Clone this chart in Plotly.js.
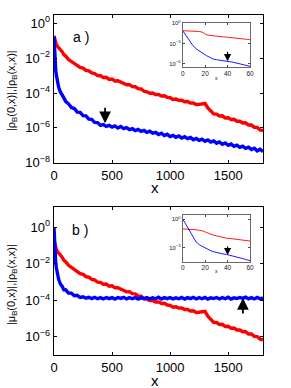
<!DOCTYPE html>
<html><head><meta charset="utf-8">
<script src="https://cdn.plot.ly/plotly-3.0.1.min.js"></script>
<style>html,body{margin:0;padding:0;background:#fff}#c{width:291px;height:388px}</style>
</head><body><div id="c"></div>
<script>
// main x grid
const xMain = [0,3,6,10,15,20,30,40,55,70,85,100,125,150,175,200,225,250,275,300,325,350,375,400,425,450,475,500,525,550,575,600,625,650,675,700,725,750,775,800,825,850,875,900,925,950,975,1000,1025,1050,1075,1100,1125,1150,1175,1200,1225,1250,1275,1300,1325,1350,1375,1400,1425,1450,1475,1500,1525,1550,1575,1600,1625,1650,1675,1700,1725,1750,1775,1800];
// log10 values
const redLog = [-0.72,-0.82,-0.97,-1.05,-1.17,-1.21,-1.32,-1.39,-1.54,-1.63,-1.80,-1.88,-2.08,-2.18,-2.33,-2.38,-2.53,-2.57,-2.70,-2.73,-2.85,-2.88,-3.00,-3.01,-3.11,-3.10,-3.22,-3.20,-3.31,-3.30,-3.36,-3.44,-3.53,-3.52,-3.63,-3.64,-3.75,-3.77,-3.90,-3.93,-4.01,-4.00,-4.09,-4.08,-4.17,-4.16,-4.25,-4.27,-4.37,-4.35,-4.42,-4.41,-4.50,-4.49,-4.58,-4.57,-4.66,-4.65,-4.64,-4.60,-4.86,-5.06,-5.20,-5.21,-5.32,-5.31,-5.43,-5.42,-5.52,-5.51,-5.62,-5.62,-5.72,-5.71,-5.84,-5.84,-5.97,-5.98,-6.12,-6.16];
const blueALog = [-0.75,-1.40,-1.90,-2.30,-2.70,-2.96,-3.34,-3.66,-3.94,-4.17,-4.28,-4.48,-4.62,-4.84,-4.89,-5.10,-5.11,-5.30,-5.31,-5.50,-5.51,-5.69,-5.70,-5.86,-5.81,-5.92,-5.86,-5.96,-5.89,-6.01,-5.92,-6.04,-5.99,-6.10,-6.05,-6.16,-6.09,-6.20,-6.15,-6.26,-6.19,-6.30,-6.26,-6.38,-6.31,-6.44,-6.37,-6.50,-6.43,-6.54,-6.47,-6.58,-6.51,-6.62,-6.55,-6.68,-6.61,-6.72,-6.65,-6.77,-6.69,-6.82,-6.75,-6.88,-6.81,-6.94,-6.87,-7.00,-6.93,-7.06,-6.99,-7.12,-7.05,-7.18,-7.11,-7.24,-7.17,-7.32,-7.23,-7.36];
const blueBLog = [0.00,-0.70,-1.20,-1.60,-1.95,-2.20,-2.62,-2.84,-3.10,-3.22,-3.42,-3.42,-3.60,-3.60,-3.74,-3.72,-3.84,-3.80,-3.88,-3.83,-3.90,-3.83,-3.91,-3.85,-3.92,-3.84,-3.90,-3.85,-3.93,-3.84,-3.89,-3.83,-3.92,-3.85,-3.91,-3.84,-3.93,-3.85,-3.90,-3.84,-3.92,-3.86,-3.91,-3.83,-3.93,-3.85,-3.90,-3.84,-3.92,-3.86,-3.91,-3.84,-3.93,-3.85,-3.90,-3.83,-3.92,-3.85,-3.91,-3.84,-3.93,-3.86,-3.90,-3.84,-3.92,-3.85,-3.91,-3.83,-3.93,-3.86,-3.90,-3.84,-3.89,-3.82,-3.91,-3.85,-3.92,-3.84,-3.91,-3.86];
// insets
const xIn = [0,3,6,9,12,15,18,21,24,27,30,33,36,39,42,45,48,51,54,57,60];
const redInALog = [-1.10,-1.12,-1.12,-1.15,-1.18,-1.22,-1.35,-1.70,-1.80,-1.88,-1.93,-1.98,-2.02,-2.06,-2.10,-2.13,-2.20,-2.25,-2.30,-2.38,-2.45];
const blueInALog = [-1.10,-1.90,-2.70,-3.30,-3.80,-4.15,-4.50,-4.80,-5.05,-5.30,-5.42,-5.52,-5.60,-5.65,-5.72,-5.80,-5.90,-6.00,-6.12,-6.25,-6.40];
const redInBLog = [-1.04,-1.05,-1.06,-1.08,-1.12,-1.18,-1.25,-1.40,-1.55,-1.67,-1.75,-1.85,-1.93,-2.00,-2.03,-2.07,-2.10,-2.15,-2.20,-2.25,-2.30];
const blueInBLog = [0.00,-0.60,-1.25,-1.85,-2.40,-2.70,-2.90,-3.08,-3.25,-3.40,-3.50,-3.58,-3.65,-3.70,-3.78,-3.85,-3.95,-4.05,-4.15,-4.25,-4.35];
// tick labels
const xMainTicks = [0,500,1000,1500];
const yATicks = [0,-2,-4,-6,-8];
const yBTicks = [0,-2,-4,-6];
const xInTicks = [0,20,40,60];
const yInATicks = [0,-3,-6];
const yInBTicks = [0,-3];
// arrows [x, log10 y]
const arrowA = [440,-5.73], arrowB = [1627,-3.87], arrowInA = [40,-5.65], arrowInB = [40,-3.77];

const pw = v => v.map(e => Math.pow(10,e));
const sup = e => '10<sup>' + (e<0 ? '\u2212'+(-e) : e) + '</sup>';
const RED='#ff0000', BLUE='#0000ff';

const traces = [
 {x:xMain,y:pw(redLog),xaxis:'x',yaxis:'y',mode:'lines',line:{color:RED,width:3.4}},
 {x:xMain,y:pw(blueALog),xaxis:'x',yaxis:'y',mode:'lines',line:{color:BLUE,width:3.4}},
 {x:xMain,y:pw(redLog),xaxis:'x2',yaxis:'y2',mode:'lines',line:{color:RED,width:3.4}},
 {x:xMain,y:pw(blueBLog),xaxis:'x2',yaxis:'y2',mode:'lines',line:{color:BLUE,width:3.4}},
 {x:xIn,y:pw(redInALog),xaxis:'x3',yaxis:'y3',mode:'lines',line:{color:RED,width:0.9}},
 {x:xIn,y:pw(blueInALog),xaxis:'x3',yaxis:'y3',mode:'lines',line:{color:BLUE,width:0.9}},
 {x:xIn,y:pw(redInBLog),xaxis:'x4',yaxis:'y4',mode:'lines',line:{color:RED,width:0.9}},
 {x:xIn,y:pw(blueInBLog),xaxis:'x4',yaxis:'y4',mode:'lines',line:{color:BLUE,width:0.9}}
];

const F = 'Liberation Sans, Arial, sans-serif';
const mainX = (dom, anchor) => ({domain:dom, anchor:anchor, range:[0,1800], tickvals:xMainTicks, ticktext:xMainTicks.map(String),
  showline:true, linecolor:'#000', linewidth:1.4, mirror:'ticks', ticks:'inside', ticklen:3, tickcolor:'#000',
  showgrid:false, zeroline:false, tickfont:{family:F,size:13,color:'#000'}});
const mainY = (dom, anchor, rng, tv) => ({domain:dom, anchor:anchor, type:'log', range:rng, tickvals:pw(tv), ticktext:tv.map(sup),
  showline:true, linecolor:'#000', linewidth:1.4, mirror:'ticks', ticks:'inside', ticklen:3, tickcolor:'#000',
  showgrid:false, zeroline:false, tickfont:{family:F,size:13,color:'#000'}});
const inX = (dom, anchor) => ({domain:dom, anchor:anchor, range:[0,60], tickvals:xInTicks, ticktext:xInTicks.map(String),
  showline:true, linecolor:'#444', linewidth:0.8, mirror:'ticks', ticks:'inside', ticklen:2, tickcolor:'#444',
  showgrid:false, zeroline:false, tickfont:{family:F,size:6.5,color:'#222'}});
const inY = (dom, anchor, rng, tv) => ({domain:dom, anchor:anchor, type:'log', range:rng, tickvals:pw(tv), ticktext:tv.map(sup),
  showline:true, linecolor:'#444', linewidth:0.8, mirror:'ticks', ticks:'inside', ticklen:2, tickcolor:'#444',
  showgrid:false, zeroline:false, tickfont:{family:F,size:6,color:'#222'}});

const W=291,H=388;
const px = v=>v/W, py = v=>1-v/H;

const arrow = (a, xr, yr, ay, w, s) => ({x:a[0], y:a[1], xref:xr, yref:yr, text:'', showarrow:true, ax:0, ay:ay,
  arrowhead:2, arrowwidth:w, arrowsize:s, arrowcolor:'#000'});
const txt = (t, x, y, size, angle) => ({text:t, x:px(x), y:py(y), xref:'paper', yref:'paper', showarrow:false,
  xanchor:'center', yanchor:'middle', textangle:angle||0, font:{family:F,size:size,color:'#000'}});

const layout = {
  width:W, height:H, margin:{l:0,r:0,t:0,b:0}, paper_bgcolor:'#fff', plot_bgcolor:'#fff', showlegend:false,
  xaxis: mainX([px(54),px(263)],'y'),
  yaxis: mainY([py(162.7),py(15.3)],'x',[-8,0.46],yATicks),
  xaxis2: mainX([px(54),px(263)],'y2'),
  yaxis2: mainY([py(355),py(207.3)],'x2',[-6.99,1.1],yBTicks),
  xaxis3: inX([px(182.7),px(250)],'y3'),
  yaxis3: inY([py(67.3),py(22.7)],'x3',[-6.55,0.09],yInATicks),
  xaxis4: inX([px(182.7),px(250)],'y4'),
  yaxis4: inY([py(261.7),py(215)],'x4',[-4.46,0.42],yInBTicks),
  annotations:[
    txt('a )',81,37,14), txt('b )',80,230,14),
    txt('x',155,187,15), txt('x',155,380,15),
    txt('|\u03c1<sub>B</sub>(0,x)|,|\u03c1<sub>B</sub>(x,x)|',12,91,11,-90),
    txt('|\u03bc<sub>B</sub>(0,x)|,|\u03c1<sub>B</sub>(x,x)|',12,285,11,-90),
    txt('x',216,78,5), txt('x',216,271,5),
    arrow(arrowA,'x','y',-17,1.8,1.3),
    arrow(arrowB,'x2','y2',17,1.8,1.3),
    arrow(arrowInA,'x3','y3',-11,1.2,1.2),
    arrow(arrowInB,'x4','y4',-10,1.2,1.2)
  ]
};
Plotly.newPlot('c', traces, layout, {staticPlot:true, displayModeBar:false});
</script></body></html>
